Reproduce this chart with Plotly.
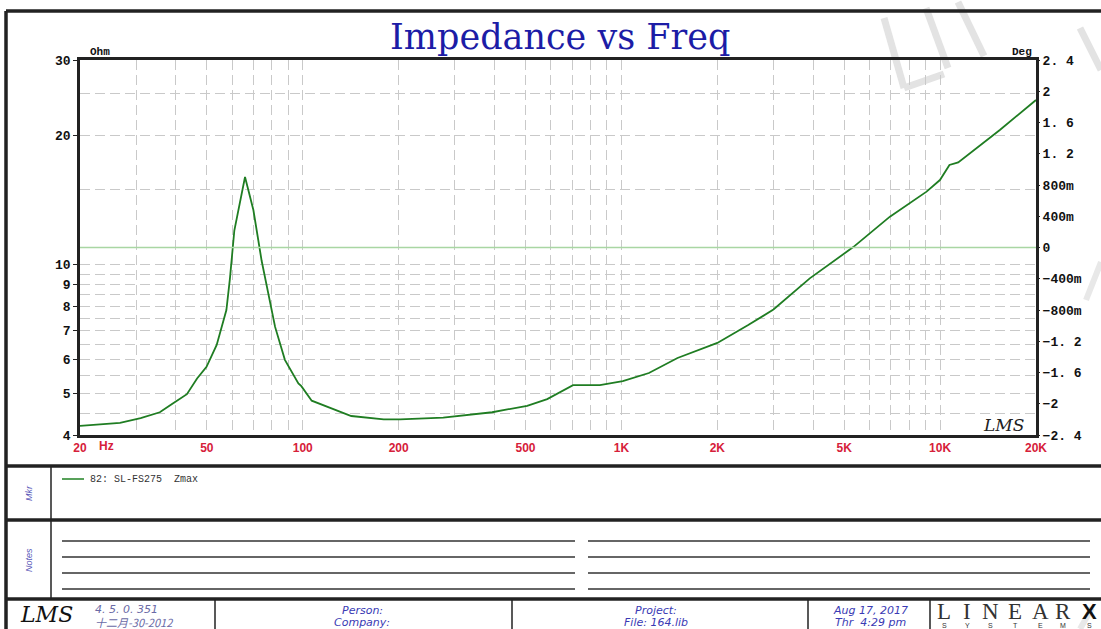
import math
import plotly.graph_objects as go

# ---------------- data ----------------
freq_hz = [20, 26.7, 31, 35.6, 39.1, 43.3, 46.6, 49.9, 53.7, 57.6, 59.1, 61, 65.9,
           70, 74.3, 76.1, 81.9, 87.9, 96.9, 99, 106.7, 142, 179.5, 202, 276, 393,
           506, 585, 658, 705, 856, 1010, 1220, 1500, 2000, 2500, 3000, 3900, 5340,
           6960, 9070, 9990, 10700, 11400, 15400, 20000]
impedance_ohm = [4.2, 4.27, 4.38, 4.52, 4.74, 4.98, 5.42, 5.77, 6.49, 7.83, 9.28, 12.0, 16.0,
                 13.4, 10.2, 9.3, 7.15, 5.99, 5.28, 5.2, 4.81, 4.43, 4.35, 4.35, 4.39, 4.52,
                 4.68, 4.85, 5.1, 5.23, 5.23, 5.34, 5.58, 6.05, 6.56, 7.22, 7.85, 9.28, 10.98,
                 12.93, 14.79, 15.74, 17.07, 17.3, 20.6, 24.2]
phase_freq = [20, 20000]
phase_deg = [0, 0]

x_tick_vals = [20, 50, 100, 200, 500, 1000, 2000, 5000, 10000, 20000]
x_tick_text = ["20", "50", "100", "200", "500", "1K", "2K", "5K", "10K", "20K"]
x_minor_vals = [30, 40, 60, 70, 80, 90, 300, 400, 600, 700, 800, 900,
                3000, 4000, 6000, 7000, 8000, 9000]
y_tick_vals = [4, 5, 6, 7, 8, 9, 10, 20, 30]
y_tick_text = ["4", "5", "6", "7", "8", "9", "10", "20", "30"]
y_minor_vals = [4.5, 5.5, 6.5, 7.5, 8.5, 9.5, 15, 25]
y2_tick_vals = [2.4, 2.0, 1.6, 1.2, 0.8, 0.4, 0, -0.4, -0.8, -1.2, -1.6, -2.0, -2.4]
y2_tick_text = ["2. 4", "2", "1. 6", "1. 2", "800m", "400m", "0", "\u2212400m", "\u2212800m",
                "\u22121. 2", "\u22121. 6", "\u22122", "\u22122. 4"]

legend_text = "82:\u00a0SL-FS275\u00a0\u00a0Zmax"
logo_letters = ["L", "I", "N", "E", "A", "R"]
logo_sub_letters = ["S", "Y", "S", "T", "E", "M", "S"]

# ---------------- layout geometry (pixels) ----------------
W_FIG, H_FIG = 1101, 629
L, R, T, B = 80, 1036, 60, 435
PW, PH = R - L, B - T


def px(x):
    return (x - L) / PW


def py(y):
    return (B - y) / PH


fig = go.Figure()
fig.add_trace(go.Scatter(x=phase_freq, y=phase_deg, mode="lines", yaxis="y2",
                         line=dict(color="#a9d6a3", width=1.6), hoverinfo="skip",
                         showlegend=False))
fig.add_trace(go.Scatter(x=freq_hz, y=impedance_ohm, mode="lines",
                         line=dict(color="#1f7d22", width=1.8), showlegend=False))

grid = dict(showgrid=True, gridcolor="#c9c9c9", griddash="10px,5px", gridwidth=1)

fig.update_layout(
    width=W_FIG, height=H_FIG, autosize=False,
    margin=dict(l=L, r=W_FIG - R, t=T, b=H_FIG - B, pad=0),
    paper_bgcolor="white", plot_bgcolor="white",
    xaxis=dict(type="log", range=[math.log10(20), math.log10(20000)],
               tickmode="array", tickvals=x_tick_vals, ticktext=x_tick_text,
               tickfont=dict(family="Liberation Sans", size=12, color="#d6203a", weight="bold"),
               ticks="", showline=True, linecolor="#222", linewidth=2.5, mirror=True,
               zeroline=False, minor=dict(tickvals=x_minor_vals, ticks="", **grid),
               **grid),
    yaxis=dict(type="log", range=[math.log10(4), math.log10(30)],
               tickmode="array", tickvals=y_tick_vals, ticktext=y_tick_text,
               tickfont=dict(family="Liberation Mono", size=13, color="#111", weight="bold"),
               ticks="outside", ticklen=4, tickcolor="#222",
               showline=True, linecolor="#222", linewidth=2.5, mirror=True,
               zeroline=False, minor=dict(tickvals=y_minor_vals, ticks="", **grid),
               **grid),
    yaxis2=dict(overlaying="y", side="right", range=[-2.4, 2.4],
                tickmode="array", tickvals=y2_tick_vals, ticktext=y2_tick_text,
                tickfont=dict(family="Liberation Mono", size=13, color="#111", weight="bold"),
                ticks="outside", ticklen=3, tickcolor="#222",
                showgrid=False, zeroline=False, showline=False),
)

shapes = []


def line(x0, y0, x1, y1, w=1.5, c="#222", layer="above"):
    shapes.append(dict(type="line", xref="paper", yref="paper", layer=layer,
                       x0=px(x0), y0=py(y0), x1=px(x1), y1=py(y1),
                       line=dict(color=c, width=w)))


# watermark strokes (light gray, behind everything)
wm = "#e3e3e3"
line(884, 18, 904, 88, 7, wm, "below")
line(904, 88, 944, 74, 7, wm, "below")
line(926, 8, 948, 68, 7, wm, "below")
line(958, 2, 984, 56, 7, wm, "below")
line(1080, 28, 1101, 70, 7, wm, "below")
line(1086, 300, 1101, 262, 6, "#e8e8e8", "below")
line(1080, 629, 1092, 608, 6, "#e8e8e8", "below")

# outer frame + separators
line(6, 11, 6, 629, 3.5)
line(6, 11, 1101, 11, 3.5)
line(6, 466, 1101, 466, 3.5)
line(6, 520, 1101, 520, 3.5)
line(6, 599, 1101, 599, 3.5)
line(51, 466, 51, 599, 1.5)
for xs in [215, 512, 808, 930]:
    line(xs, 599, xs, 629, 1.5)
# notes lines
for yn in [541, 557, 573, 589]:
    line(62, yn, 575, yn, 1.4, "#333")
    line(588, yn, 1090, yn, 1.4, "#333")
# legend sample line
line(62, 479, 84, 479, 1.6, "#2e8a30")

fig.update_layout(shapes=shapes)

ann = []


def text(x, y, s, size=10, color="#111", family="Liberation Sans", xanchor="center",
         angle=0, weight="normal", style="normal", xref="paper"):
    ann.append(dict(x=px(x) if xref == "paper" else x, y=py(y), xref=xref, yref="paper",
                    text=s, showarrow=False, xanchor=xanchor, yanchor="middle",
                    textangle=angle,
                    font=dict(size=size, color=color, family=family, weight=weight,
                              style=style)))


text(560, 37, "Impedance vs Freq", size=35, color="#1c1ca6", family="DejaVu Serif")
text(88, 52, "Ohm", size=11, family="Liberation Mono", xanchor="left", weight="bold")
text(1034, 52, "Deg", size=11, family="Liberation Mono", xanchor="right", weight="bold")
# "Hz" after the 20 tick label
ann.append(dict(x=math.log10(24.3), y=py(446), xref="x", yref="paper", text="Hz",
                showarrow=False, xanchor="center", yanchor="middle",
                font=dict(size=12, color="#d6203a", family="Liberation Sans", weight="bold")))
text(1003, 425, "LMS", size=17, color="#222", family="DejaVu Serif", style="italic")

text(88, 479, legend_text, size=10, color="#333", family="Liberation Mono", xanchor="left")
text(29, 493, "Mkr", size=9, color="#5858b8", angle=-90, style="italic")
text(29, 560, "Notes", size=9, color="#5858b8", angle=-90, style="italic")

# footer
ff = "DejaVu Sans"
text(46, 614, "LMS", size=22, color="#111", family="DejaVu Serif", style="italic")
text(93, 609, "4. 5. 0. 351", size=11, color="#6a6aa6", xanchor="left", style="italic",
     family=ff)
text(93, 622, "十二月-30-2012", size=11, color="#6a6aa6", xanchor="left",
     family="Noto Sans CJK SC", style="italic")
fc = "#3a3ab4"
text(362, 610, "Person:", size=11, color=fc, style="italic", family=ff)
text(362, 622, "Company:", size=11, color=fc, style="italic", family=ff)
text(656, 610, "Project:", size=11, color=fc, style="italic", family=ff)
text(656, 622, "File: 164.lib", size=11, color=fc, style="italic", family=ff)
text(870, 610, "Aug 17, 2017", size=11, color=fc, style="italic", family=ff)
text(870, 622, "Thr\u00a0\u00a04:29 pm", size=11, color=fc, style="italic", family=ff)
logo_x = [944, 967, 990, 1015, 1040, 1063, 1089]
for lx, ch in zip(logo_x, logo_letters):
    text(lx, 611, ch, size=23, color="#333", family="Liberation Serif")
text(1089, 611, "X", size=22, color="#111", family="Liberation Sans", weight="bold")
for lx, ch in zip(logo_x, logo_sub_letters):
    text(lx, 625, ch, size=7, color="#333")

fig.update_layout(annotations=ann)

fig.write_html("out.html", config={"displayModeBar": False},
               post_script="document.body.style.margin='0';document.body.style.padding='0';")
